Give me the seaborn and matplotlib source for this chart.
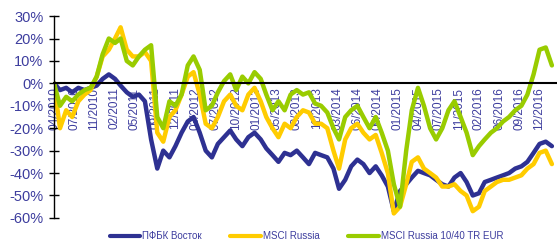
import pandas as pd
import numpy as np
import matplotlib
matplotlib.use("Agg")
import matplotlib.pyplot as plt
import matplotlib.ticker as mticker
import seaborn as sns

# monthly values, % change since 04/2010
months = pd.date_range("2010-04-01", periods=83, freq="MS")

vostok = [0, -3, -2, -4, -2, -3, -2, -1, 2, 4,
          2, -1, -4, -6, -5, -8, -25, -38, -30, -33,
          -28, -22, -17, -15, -22, -30, -33, -27, -24, -21,
          -25, -28, -24, -22, -25, -29, -32, -35, -31, -32,
          -30, -33, -36, -31, -32, -33, -38, -47, -43, -37,
          -34, -36, -40, -37, -41, -46, -57, -48, -45, -42,
          -39, -40, -41, -43, -45, -46, -42, -40, -44, -50,
          -49, -44, -43, -42, -41, -40, -38, -37, -35, -31,
          -27, -26, -28]

msci = [0, -20, -12, -15, -8, -5, -3, 3, 12, 15,
        20, 25, 15, 12, 12, 14, 10, -22, -26, -15,
        -12, -5, 3, 5, -5, -18, -20, -15, -8, -5,
        -10, -12, -5, -2, -8, -15, -20, -24, -18, -20,
        -15, -12, -13, -18, -18, -20, -30, -38, -25, -20,
        -18, -22, -25, -23, -31, -40, -58, -55, -45, -35,
        -33, -38, -40, -42, -46, -46, -45, -48, -50, -57,
        -55, -48, -46, -44, -43, -43, -42, -41, -38, -36,
        -31, -30, -36]

msci_1040 = [0, -10, -6, -8, -5, -3, -2, 3, 13, 20,
             18, 20, 10, 8, 12, 15, 17, -15, -20, -8,
             -10, -5, 8, 12, 6, -12, -10, -4, 1, 4,
             -3, 3, 0, 5, 2, -5, -12, -8, -12, -5,
             -3, -5, -4, -9, -10, -13, -20, -25, -15, -12,
             -10, -15, -20, -15, -22, -30, -45, -55, -30, -12,
             -2, -10, -20, -25, -20, -12, -8, -15, -22, -32,
             -28, -25, -22, -20, -17, -15, -12, -10, -5, 4,
             15, 16, 8]

series_names = ["ПФБК Восток", "MSCI Russia", "MSCI Russia 10/40 TR EUR"]
colors = ["#2e3192", "#ffcc00", "#99cc00"]

tick_labels = ["04/2010", "07/2010", "11/2010", "02/2011", "05/2011", "09/2011",
               "12/2011", "03/2012", "07/2012", "10/2012", "01/2013", "05/2013",
               "08/2013", "11/2013", "03/2014", "06/2014", "09/2014", "01/2015",
               "04/2015", "07/2015", "11/2015", "02/2016", "06/2016", "09/2016",
               "12/2016"]

df = pd.DataFrame({
    "date": np.tile(months, 3),
    "value": vostok + msci + msci_1040,
    "series": np.repeat(series_names, len(months)),
})

sns.set_style("white")
plt.rcParams["font.family"] = ["Liberation Sans", "DejaVu Sans"]
txt = "#3d3d9e"

fig = plt.figure(figsize=(5.57, 2.4), dpi=100)
ax = fig.add_axes([0.097, 0.092, 0.901, 0.841])

sns.lineplot(data=df, x="date", y="value", hue="series", hue_order=series_names,
             palette=colors, linewidth=3.2, ax=ax)

ax.set_ylim(-60, 30)
ax.set_xlim(months[0], months[-1] + pd.Timedelta(days=20))
ax.set_yticks(range(-60, 31, 10))
ax.yaxis.set_major_formatter(mticker.FuncFormatter(lambda v, p: f"{int(v)}%"))
ax.tick_params(axis="y", direction="inout", length=7, width=1, color="black",
               labelcolor=txt, labelsize=10.5, pad=4, left=True)

tick_pos = pd.date_range("2010-04-01", "2016-12-01", periods=25)
ax.tick_params(axis="x", length=0, labelcolor=txt, labelsize=8.5, pad=3,
               labelrotation=90)
ax.xaxis.set_major_locator(mticker.FixedLocator(matplotlib.dates.date2num(tick_pos)))
ax.xaxis.set_major_formatter(mticker.FixedFormatter(tick_labels))
for lab in ax.get_xticklabels():
    lab.set_rotation(90)
    lab.set_verticalalignment("top")

ax.spines["bottom"].set_position(("data", 0))
ax.spines["bottom"].set_color("black")
ax.spines["bottom"].set_linewidth(1.5)
ax.spines["left"].set_color("black")
ax.spines["left"].set_linewidth(1)
ax.spines["top"].set_visible(False)
ax.spines["right"].set_visible(False)
ax.set_xlabel("")
ax.set_ylabel("")

handles, labels = ax.get_legend_handles_labels()
ax.get_legend().remove()
leg = fig.legend(handles, labels, ncol=3, loc="center", bbox_to_anchor=(0.55, 0.015),
                 frameon=False, fontsize=7, handlelength=3.1, handletextpad=0.2,
                 columnspacing=3.0, labelcolor=txt)
for h in leg.get_lines():
    h.set_linewidth(3)

fig.savefig("out.png", dpi=100)
